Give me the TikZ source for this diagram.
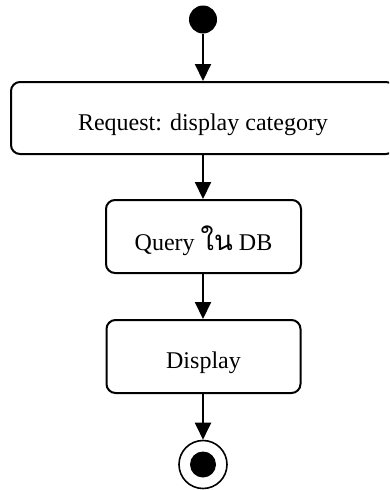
\documentclass[tikz,border=0pt]{standalone}
\usepackage{fontspec}
\setmainfont{Liberation Serif}
\newfontfamily\thaifont[Script=Thai]{Loma}
\usetikzlibrary{arrows.meta}
\begin{document}
\begin{tikzpicture}[x=1pt,y=-1pt,
  actbox/.style={draw, line width=2pt, rounded corners=9pt, font=\fontsize{24}{28}\selectfont, text height=24pt, text depth=0pt, inner sep=0pt},
  flow/.style={line width=2pt, -{Triangle[length=17pt,width=16pt]}},
  dot/.style={circle, fill, inner sep=0pt}
  ]
\useasboundingbox (0,0) rectangle (389,490);
\clip (0,0) rectangle (389,490);
\node[dot, minimum size=28pt] (start) at (203,19.5) {};
\node[actbox, minimum width=384pt, minimum height=72pt] (req) at (203,118) {Request: display category};
\node[actbox, minimum width=195pt, minimum height=73pt, text height=28pt] (query) at (203.5,236.5) {Query {\thaifont\fontsize{27.5}{30}\selectfont ใน} DB};
\node[actbox, minimum width=194pt, minimum height=73pt] (disp) at (203.5,356.5) {Display};
\node[circle, draw, line width=1.6pt, minimum size=48pt, inner sep=0pt] (endo) at (203,464.5) {};
\node[dot, minimum size=26pt] (endi) at (endo.center) {};
\draw[flow] (start.south) -- (start.south |- req.north);
\draw[flow] (start.south |- req.south) -- (start.south |- query.north);
\draw[flow] (start.south |- query.south) -- (start.south |- disp.north);
\draw[flow] (start.south |- disp.south) -- (endo.north);
\end{tikzpicture}
\end{document}
